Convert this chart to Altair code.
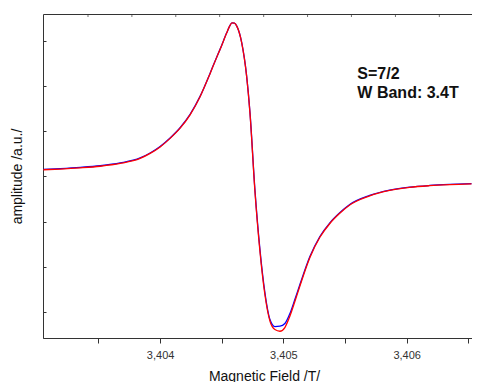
import altair as alt
import pandas as pd

# Magnetic field (T) sample positions
field = [3.403053, 3.403190, 3.403352, 3.403514, 3.403676, 3.403838, 3.403919, 3.404000,
         3.404081, 3.404162, 3.404243, 3.404324, 3.404405, 3.404453, 3.404486, 3.404540,
         3.404563, 3.404583, 3.404603, 3.404623, 3.404662, 3.404702, 3.404729, 3.404769,
         3.404810, 3.404850, 3.404891, 3.404931, 3.404972, 3.405012, 3.405053, 3.405093,
         3.405134, 3.405215, 3.405296, 3.405377, 3.405457, 3.405538, 3.405700, 3.405862,
         3.406024, 3.406186, 3.406348, 3.406526]

# amplitude (a.u.) of the blue and red spectra
blue = [0.155, 0.173, 0.200, 0.237, 0.299, 0.410, 0.521, 0.665,
        0.854, 1.080, 1.375, 1.774, 2.284, 2.605, 2.816, 3.182,
        3.326, 3.404, 3.397, 3.326, 2.965, 2.224, 1.419, -0.288,
        -1.619, -2.572, -3.171, -3.326, -3.319, -3.259, -3.038, -2.727,
        -2.395, -1.774, -1.330, -1.027, -0.805, -0.621, -0.421, -0.304,
        -0.237, -0.200, -0.177, -0.160]
red = [0.148, 0.164, 0.190, 0.226, 0.288, 0.399, 0.510, 0.655,
       0.844, 1.070, 1.366, 1.766, 2.278, 2.600, 2.812, 3.180,
       3.326, 3.404, 3.397, 3.326, 2.960, 2.214, 1.400, -0.322,
       -1.663, -2.616, -3.204, -3.392, -3.430, -3.348, -3.093, -2.772,
       -2.428, -1.796, -1.348, -1.042, -0.817, -0.631, -0.429, -0.311,
       -0.243, -0.205, -0.181, -0.164]

# axis ticks
bottom_ticks = [3.4035, 3.404, 3.4045, 3.405, 3.4055, 3.406, 3.4065]
top_ticks = [3.403415, 3.403771, 3.404127, 3.404483, 3.404840, 3.405196,
             3.405552, 3.405909, 3.406265]
left_ticks = [-3, -2, -1, 0, 1, 2, 3]

# annotation
note_text = ["S=7/2", "W Band: 3.4T"]
note_x = [3.40560, 3.40560]
note_y = [2.166, 1.729]

df = pd.DataFrame({"field": field + field, "amp": blue + red,
                   "series": ["blue"] * len(field) + ["red"] * len(field)})
df_note = pd.DataFrame({"field": note_x, "amp": note_y, "t": note_text})
df_top = pd.DataFrame({"field": top_ticks})

FONT = "Liberation Sans"
AX = "#333333"
W, H = 429, 324
xscale = alt.Scale(domain=[3.40305, 3.40653], nice=False, zero=False)
yscale = alt.Scale(domain=[-3.58, 3.6], nice=False, zero=False)

xaxis = alt.Axis(
    orient="bottom", values=bottom_ticks,
    labelExpr="abs(datum.value*1000 - round(datum.value*1000)) < 0.01 ? replace(format(datum.value, '.3f'), '.', ',') : ''",
    labelFont=FONT, labelFontSize=11, labelColor=AX, labelPadding=6,
    tickSize=5, tickColor=AX, domainColor=AX,
    title="Magnetic Field /T/", titleFont=FONT, titleFontSize=14,
    titleFontWeight="normal", titleColor="#111111",
    titleX=221, titleY=31, grid=False,
)
yaxis = alt.Axis(
    orient="left", values=left_ticks, labels=False, tickSize=3, offset=-3,
    domain=False, tickColor=AX, grid=False,
    title="amplitude /a.u./", titleFont=FONT, titleFontSize=14,
    titleFontWeight="normal", titleColor="#111111", titlePadding=18,
)

lines = alt.Chart(df).mark_line(strokeWidth=1.3, interpolate="monotone").encode(
    x=alt.X("field:Q", scale=xscale, axis=xaxis),
    y=alt.Y("amp:Q", scale=yscale, axis=yaxis),
    color=alt.Color("series:N", scale=alt.Scale(domain=["blue", "red"],
                    range=["#0000ff", "#ff0000"]), legend=None),
)

notes = alt.Chart(df_note).mark_text(
    align="left", baseline="alphabetic", font=FONT, fontSize=16,
    fontWeight="bold", color="#111111"
).encode(
    x=alt.X("field:Q", scale=xscale, axis=xaxis),
    y=alt.Y("amp:Q", scale=yscale, axis=yaxis),
    text="t:N",
)

# small inward ticks along the top frame
top_marks = alt.Chart(df_top).mark_tick(
    color=AX, size=3, thickness=1, orient="vertical"
).encode(
    x=alt.X("field:Q", scale=xscale, axis=xaxis),
    y=alt.value(1.5),
)

chart = alt.layer(lines, notes, top_marks).properties(
    width=W, height=H,
    autosize=alt.AutoSizeParams(type="none"),
    padding={"left": 35, "top": 6, "right": 0, "bottom": 44},
    background="white",
).configure_view(stroke=AX, strokeWidth=1)

chart.save("out.html", embed_options={"renderer": "svg", "actions": False})
